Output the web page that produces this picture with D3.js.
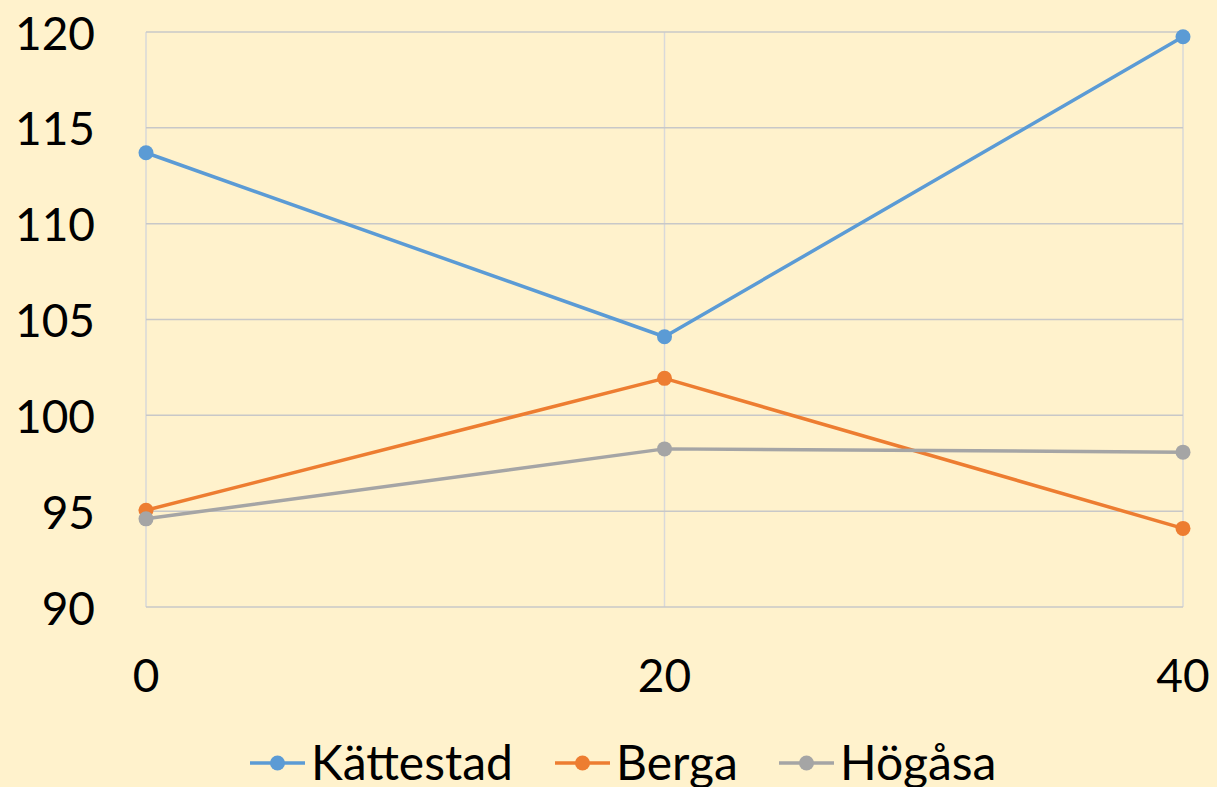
<!DOCTYPE html>
<html lang="sv">
<head>
<meta charset="utf-8">
<title>Kättestad, Berga, Högåsa</title>
<script src="https://d3js.org/d3.v7.min.js"></script>
<style>
  html, body { margin: 0; padding: 0; background: #fff2cc; }
  svg { display: block; }
  text { font-family: Lato, "Open Sans", sans-serif; fill: #000; }
</style>
</head>
<body>
<svg id="chart" width="1217" height="787"></svg>
<script>
// data
var xValues = [0, 20, 40];
var seriesNames = ["Kättestad", "Berga", "Högåsa"];
var kattestad = [113.7, 104.1, 119.75];
var berga = [95.05, 101.93, 94.1];
var hogasa = [94.6, 98.25, 98.08];
var yTicks = [90, 95, 100, 105, 110, 115, 120];
var xTicks = [0, 20, 40];

var colors = ["#5b9bd5", "#ed7d31", "#a5a5a5"];
var allSeries = [kattestad, berga, hogasa];

var svg = d3.select("#chart");
var W = 1217, H = 787;
// plot area (note: "top" is taken by window.top, so use other names)
var plotLeft = 146, plotRight = 1183, plotTop = 32, plotBottom = 607;

svg.append("rect").attr("width", W).attr("height", H).attr("fill", "#fff2cc");

var x = d3.scaleLinear().domain([0, 40]).range([plotLeft, plotRight]);
var y = d3.scaleLinear().domain([90, 120]).range([plotBottom, plotTop]);

// vertical gridlines (lighter)
svg.append("g").selectAll("line").data(xTicks).join("line")
  .attr("x1", d => x(d)).attr("x2", d => x(d))
  .attr("y1", plotTop).attr("y2", plotBottom)
  .attr("stroke", "#d9d9d9").attr("stroke-width", 1.5);

// horizontal gridlines
svg.append("g").selectAll("line").data(yTicks).join("line")
  .attr("x1", plotLeft).attr("x2", plotRight)
  .attr("y1", d => y(d)).attr("y2", d => y(d))
  .attr("stroke", "#c8c8c8").attr("stroke-width", 1.5);

// axis labels
svg.append("g").selectAll("text").data(yTicks).join("text")
  .attr("x", 95).attr("y", d => y(d))
  .attr("text-anchor", "end").attr("dominant-baseline", "central")
  .attr("font-size", 46)
  .text(d => d);

svg.append("g").selectAll("text").data(xTicks).join("text")
  .attr("x", d => x(d)).attr("y", 692)
  .attr("text-anchor", "middle")
  .attr("font-size", 46)
  .text(d => d);

// lines + markers
var line = d3.line().x((d, i) => x(xValues[i])).y(d => y(d));

allSeries.forEach(function(s, k) {
  svg.append("path").datum(s)
    .attr("d", line)
    .attr("fill", "none")
    .attr("stroke", colors[k])
    .attr("stroke-width", 3.5)
    .attr("stroke-linejoin", "round");
  svg.append("g").selectAll("circle").data(s).join("circle")
    .attr("cx", (d, i) => x(xValues[i]))
    .attr("cy", d => y(d))
    .attr("r", 7.5)
    .attr("fill", colors[k]);
});

// legend
var legendX = [250, 555, 779];
var lg = svg.append("g");
seriesNames.forEach(function(name, k) {
  var g = lg.append("g").attr("transform", "translate(" + legendX[k] + ",763)");
  g.append("line").attr("x1", 0).attr("x2", 55).attr("y1", 0).attr("y2", 0)
    .attr("stroke", colors[k]).attr("stroke-width", 3.5);
  g.append("circle").attr("cx", 27.5).attr("cy", 0).attr("r", 7.5).attr("fill", colors[k]);
  g.append("text").attr("x", 61).attr("y", 17)
    .attr("font-size", 48)
    .text(name);
});
</script>
</body>
</html>
